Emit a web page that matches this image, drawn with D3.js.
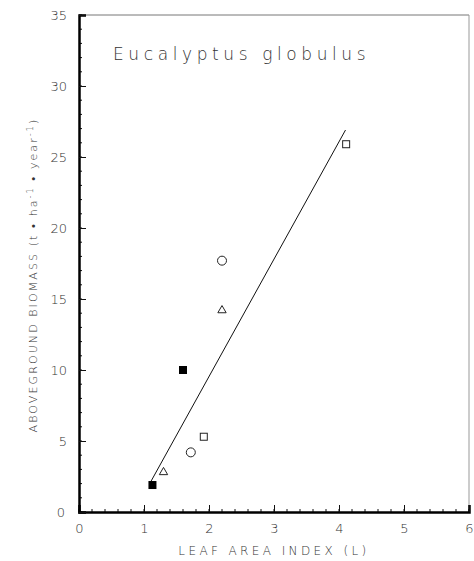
<!DOCTYPE html>
<html><head><meta charset="utf-8">
<script src="https://cdn.jsdelivr.net/npm/d3@7"></script>
<style>body{margin:0;background:#fff}svg{display:block}text{font-family:"DejaVu Sans",sans-serif;fill:#333;font-weight:200}</style>
</head><body>
<script>
const title = "Eucalyptus globulus";
const xTicks = [0,1,2,3,4,5,6];
const yTicks = [0,5,10,15,20,25,30,35];
const filledSquares = [{x:1.13,y:1.9},{x:1.60,y:10.0}];
const triangles = [{x:1.30,y:2.8},{x:2.20,y:14.2}];
const circles = [{x:1.72,y:4.2},{x:2.20,y:17.7}];
const openSquares = [{x:1.92,y:5.3},{x:4.11,y:25.9}];
const fitLine = [{x:1.10,y:2.1},{x:4.10,y:26.9}];

const W=474,H=561;
const svg=d3.select("body").append("svg").attr("width",W).attr("height",H);
const x=d3.scaleLinear().domain([0,6]).range([79,469]);
const y=d3.scaleLinear().domain([0,35]).range([512,15]);

// frame top/right
svg.append("line").attr("x1",x(0)).attr("x2",x(6)).attr("y1",y(35)).attr("y2",y(35)).attr("stroke","#777").attr("stroke-width",1);
svg.append("line").attr("x1",x(6)).attr("x2",x(6)).attr("y1",y(35)).attr("y2",y(0)).attr("stroke","#999").attr("stroke-width",1);

// minor ticks
const xMinor=d3.range(0,6.001,0.2);
svg.append("g").selectAll("line").data(xMinor).join("line")
 .attr("x1",d=>x(d)).attr("x2",d=>x(d)).attr("y1",y(0)).attr("y2",y(0)-3).attr("stroke","#111").attr("stroke-width",1);
const yMinor=d3.range(0,35.001,1);
svg.append("g").selectAll("line").data(yMinor).join("line")
 .attr("y1",d=>y(d)).attr("y2",d=>y(d)).attr("x1",x(0)).attr("x2",x(0)+3).attr("stroke","#111").attr("stroke-width",1);

// axes
const xAxis=svg.append("g").attr("transform",`translate(0,${y(0)})`)
 .call(d3.axisBottom(x).tickValues(xTicks).tickSize(-7).tickPadding(12).tickFormat(d3.format("d")));
const yAxis=svg.append("g").attr("transform",`translate(${x(0)},0)`)
 .call(d3.axisLeft(y).tickValues(yTicks).tickSize(-7).tickPadding(12).tickFormat(d3.format("d")));
[xAxis,yAxis].forEach(g=>{
 g.select(".domain").attr("stroke","#000").attr("stroke-width",2.5);
 g.selectAll(".tick line").attr("stroke","#111");
 g.selectAll(".tick text").style("font-size","13px").style("fill","#333").style("font-weight","200").style("font-family","DejaVu Sans, sans-serif");
});
xAxis.selectAll(".tick text").attr("dy","0.71em");
yAxis.selectAll(".tick").filter(d=>d===0).select("text").attr("x",-14);

// fit line
svg.append("path").datum(fitLine).attr("fill","none").attr("stroke","#111").attr("stroke-width",1)
 .attr("d",d3.line().x(d=>x(d.x)).y(d=>y(d.y)));

// markers
svg.append("g").selectAll("rect").data(filledSquares).join("rect")
 .attr("x",d=>x(d.x)-4).attr("y",d=>y(d.y)-4).attr("width",8).attr("height",8).attr("fill","#000");
svg.append("g").selectAll("rect").data(openSquares).join("rect")
 .attr("x",d=>x(d.x)-3.5).attr("y",d=>y(d.y)-3.5).attr("width",7).attr("height",7).attr("fill","#fff").attr("stroke","#222").attr("stroke-width",1);
svg.append("g").selectAll("circle").data(circles).join("circle")
 .attr("cx",d=>x(d.x)).attr("cy",d=>y(d.y)).attr("r",4.5).attr("fill","#fff").attr("stroke","#222").attr("stroke-width",1);
const tri=d3.symbol().type(d3.symbolTriangle).size(30);
svg.append("g").selectAll("path").data(triangles).join("path")
 .attr("transform",d=>`translate(${x(d.x)},${y(d.y)})`).attr("d",tri).attr("fill","#fff").attr("stroke","#222").attr("stroke-width",1);

// title
svg.append("text").attr("x",113).attr("y",60).text(title)
 .style("font-size","17px").style("letter-spacing","4.6px");

// axis titles
svg.append("text").attr("x",274).attr("y",555).attr("text-anchor","middle").text("LEAF AREA INDEX (L)")
 .style("font-size","12px").style("letter-spacing","3.4px");
const yl=svg.append("text").attr("transform","translate(37,275) rotate(-90)").attr("text-anchor","middle")
 .style("font-size","11px").style("letter-spacing","2.1px");
yl.append("tspan").text("ABOVEGROUND BIOMASS (t \u2022 ha");
yl.append("tspan").attr("dy",-4).style("font-size","8px").text("-1");
yl.append("tspan").attr("dy",4).text(" \u2022 year");
yl.append("tspan").attr("dy",-4).style("font-size","8px").text("-1");
yl.append("tspan").attr("dy",4).text(")");
</script>
</body></html>
